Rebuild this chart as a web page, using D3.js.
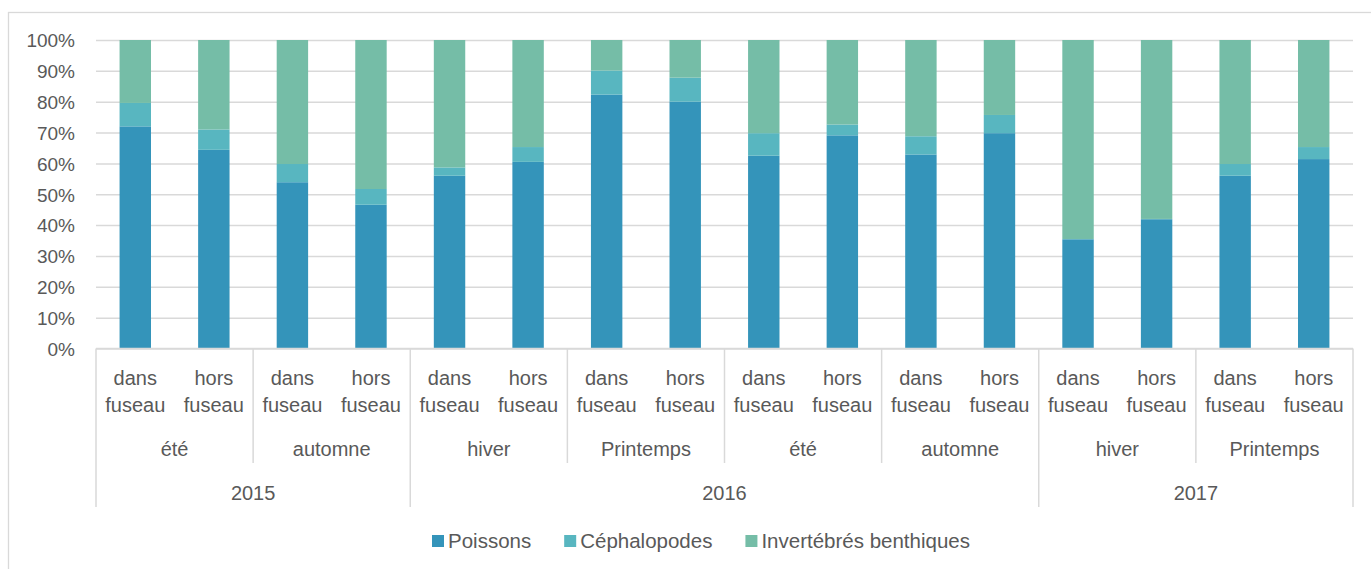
<!DOCTYPE html>
<html>
<head>
<meta charset="utf-8">
<script src="https://cdn.jsdelivr.net/npm/d3@7"></script>
<style>
  body { margin: 0; background: #fff; }
  svg { display: block; }
  text { font-family: "Liberation Sans", Arial, sans-serif; fill: #595959; }
</style>
</head>
<body>
<div id="chart"></div>
<script>
// categories
const years = ["2015", "2016", "2017"];
const seasonLabels = ["été", "automne", "hiver", "Printemps", "été", "automne", "hiver", "Printemps"];
const seasonYears = ["2015", "2015", "2016", "2016", "2016", "2016", "2017", "2017"];
const zones = ["dans fuseau", "hors fuseau"];
const seriesNames = ["Poissons", "Céphalopodes", "Invertébrés benthiques"];

// values (%), one per bar
const poissons     = [72.0, 64.4, 53.9, 46.6, 56.0, 60.5, 82.3, 80.0, 62.5, 69.1, 62.9, 69.8, 35.4, 41.9, 56.0, 61.4];
const cephalopodes = [7.6, 6.6, 5.9, 5.1, 2.7, 4.8, 7.8, 7.8, 7.3, 3.5, 5.9, 5.9, 0.1, 0.1, 3.8, 3.9];
const invertebres  = [20.4, 29.0, 40.2, 48.3, 41.3, 34.7, 9.9, 12.2, 30.2, 27.4, 31.2, 24.3, 64.5, 58.0, 40.2, 34.7];

const yTicks = [0, 0.1, 0.2, 0.3, 0.4, 0.5, 0.6, 0.7, 0.8, 0.9, 1];
const colors = ["#3494ba", "#58b6c0", "#75bda7"];

const width = 1371;
const height = 569;
const margin = { top: 40, right: 18, bottom: 220.5, left: 96 };

// one row per bar
const rows = [];
seasonLabels.forEach((s, si) => {
  zones.forEach((z, zi) => {
    const i = si * 2 + zi;
    rows.push({
      id: i,
      zone: z,
      season: s,
      year: seasonYears[si],
      "Poissons": poissons[i],
      "Céphalopodes": cephalopodes[i],
      "Invertébrés benthiques": invertebres[i]
    });
  });
});

const svg = d3.select("#chart")
  .append("svg")
  .attr("width", width)
  .attr("height", height);

// chart frame
svg.append("rect")
  .attr("x", 8.5).attr("y", 12.5)
  .attr("width", width).attr("height", height)
  .attr("fill", "none")
  .attr("stroke", "#d9d9d9")
  .attr("stroke-width", 1.3);

const xScale = d3.scaleBand()
  .domain(rows.map(d => d.id))
  .range([margin.left, width - margin.right])
  .paddingInner(0.6)
  .paddingOuter(0.3);

const yScale = d3.scaleLinear()
  .domain([0, 1])
  .range([height - margin.bottom, margin.top]);

// gridlines + y labels
const yAxis = svg.append("g")
  .attr("transform", `translate(${margin.left}, 0)`)
  .call(d3.axisLeft(yScale)
    .tickValues(yTicks)
    .tickFormat(d3.format(".0%"))
    .tickSize(-(width - margin.left - margin.right))
    .tickPadding(21));
yAxis.select(".domain").remove();
yAxis.selectAll(".tick line").attr("stroke", "#d9d9d9").attr("stroke-width", 1.5);
yAxis.selectAll(".tick text")
  .style("font-size", "19px")
  .attr("fill", "#595959")
  .attr("dy", "0.36em");

// stacked bars
const stack = d3.stack().keys(seriesNames).offset(d3.stackOffsetExpand);
const layers = stack(rows);

svg.append("g")
  .selectAll("g")
  .data(layers)
  .join("g")
  .attr("fill", (d, i) => colors[i])
  .selectAll("rect")
  .data(d => d)
  .join("rect")
  .attr("x", d => xScale(d.data.id))
  .attr("width", xScale.bandwidth())
  .attr("y", d => yScale(d[1]))
  .attr("height", d => yScale(d[0]) - yScale(d[1]));

// category axis (three levels)
const axisY = yScale(0);
const step = xScale.step();
const x0 = margin.left;
const x1 = width - margin.right;
const cat = svg.append("g");

cat.append("line")
  .attr("x1", x0).attr("x2", x1)
  .attr("y1", axisY).attr("y2", axisY)
  .attr("stroke", "#d9d9d9").attr("stroke-width", 1.5);

// season separators
const seasonEdges = d3.range(seasonLabels.length + 1).map(k => x0 + k * 2 * step);
const yearEdges = [0];
years.forEach(y => yearEdges.push(yearEdges[yearEdges.length - 1] + seasonYears.filter(s => s === y).length));

cat.selectAll("line.sep")
  .data(seasonEdges)
  .join("line")
  .attr("class", "sep")
  .attr("x1", d => d).attr("x2", d => d)
  .attr("y1", axisY)
  .attr("y2", (d, k) => yearEdges.includes(k) ? 507 : 463)
  .attr("stroke", "#d9d9d9").attr("stroke-width", 1.5);

// zone labels
const zoneText = cat.selectAll("text.zone")
  .data(rows)
  .join("text")
  .attr("class", "zone")
  .attr("text-anchor", "middle")
  .style("font-size", "20px");
zoneText.each(function(d) {
  const cx = xScale(d.id) + xScale.bandwidth() / 2;
  const parts = d.zone.split(" ");
  d3.select(this).selectAll("tspan")
    .data(parts)
    .join("tspan")
    .attr("x", cx)
    .attr("y", (p, i) => 385 + i * 27)
    .text(p => p);
});

// season labels
cat.selectAll("text.season")
  .data(seasonLabels)
  .join("text")
  .attr("class", "season")
  .attr("text-anchor", "middle")
  .style("font-size", "20px")
  .attr("x", (d, k) => x0 + (k * 2 + 1) * step)
  .attr("y", 456)
  .text(d => d);

// year labels
cat.selectAll("text.year")
  .data(years)
  .join("text")
  .attr("class", "year")
  .attr("text-anchor", "middle")
  .style("font-size", "20px")
  .attr("x", (d, k) => x0 + (yearEdges[k] + yearEdges[k + 1]) * step)
  .attr("y", 500)
  .text(d => d);

// legend
const legend = svg.append("g").attr("transform", "translate(432, 541)");
let lx = 0;
seriesNames.forEach((name, i) => {
  const item = legend.append("g").attr("transform", `translate(${lx}, 0)`);
  item.append("rect")
    .attr("x", 0).attr("y", -6)
    .attr("width", 12).attr("height", 12)
    .attr("fill", colors[i]);
  const t = item.append("text")
    .attr("x", 16)
    .attr("dy", "0.36em")
    .style("font-size", "20.5px")
    .text(name);
  lx += 16 + t.node().getComputedTextLength() + 33;
});
</script>
</body>
</html>
